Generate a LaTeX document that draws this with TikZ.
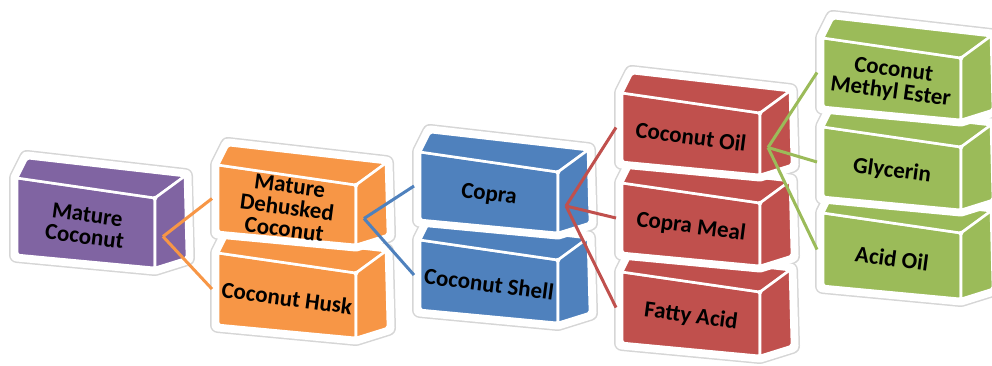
\documentclass[tikz,border=0pt]{standalone}
\usepackage{fontspec}
\setmainfont{Carlito}
\usetikzlibrary{positioning}

\definecolor{cratepurple}{HTML}{8064A2}
\definecolor{crateorange}{HTML}{F79646}
\definecolor{crateblue}{HTML}{4F81BD}
\definecolor{cratered}{HTML}{C0504D}
\definecolor{crategreen}{HTML}{9BBB59}

\pgfdeclarelayer{rim}
\pgfsetlayers{rim,main}

\tikzset{
  rim/.style={draw=black!16,fill=black!16,line width=16pt,line join=round},
  halo/.style={draw=white,fill=white,line width=13pt,line join=round},
  face/.style={fill=#1,draw=white,line width=2.6pt,line join=round,rounded corners=2pt},
  crate text/.style={font=\fontsize{23}{22}\selectfont\bfseries,align=center,rotate=-7.5,inner sep=0pt},
  link/.style={draw=#1,line width=3pt},
  pics/crate/.style n args={3}{code={
    \begin{pgfonlayer}{rim}
      \draw[rim] (0,0) -- (10,-20) -- (168,-2) -- (170,#2+3) -- (138,#2+13) -- (0,#2) -- cycle;
    \end{pgfonlayer}
    \draw[halo] (0,0) -- (10,-20) -- (168,-2) -- (170,#2+3) -- (138,#2+13) -- (0,#2) -- cycle;
    \draw[face=#1] (0,0) -- (138,20) -- (138,#2+13) -- (0,#2) -- cycle;
    \draw[face=#1] (0,0) -- (10,-20) -- (168,-2) -- (138,20) -- cycle;
    \draw[face=#1] (138,20) -- (168,-2) -- (170,#2+3) -- (138,#2+13) -- cycle;
    \node[crate text] (-label) at (69,#2/2+9) {#3};
    \coordinate (-in) at (-6,#2/2);
    \coordinate (-out) at (146,#2/2+20);
  }}
}

\begin{document}
\begin{tikzpicture}[x=1pt,y=-1pt]
  \useasboundingbox (0,0) rectangle (992,365);

  % boxes, lower ones of a stack first
  \pic (mc) at (17,178) {crate={cratepurple}{77}{Mature\\Coconut}};

  \pic (mh) at (218,253) {crate={crateorange}{72}{Coconut Husk}};
  \pic (md) at (218,165) {crate={crateorange}{67}{Mature\\Dehusked\\Coconut}};

  \pic (shell) at (420,240) {crate={crateblue}{70}{Coconut Shell}};
  \pic (copra) at (420,152) {crate={crateblue}{68}{Copra}};

  \pic (fatty) at (622,272) {crate={cratered}{71}{Fatty Acid}};
  \pic (meal) at (622,183) {crate={cratered}{70}{Copra Meal}};
  \pic (oil) at (622,93) {crate={cratered}{69}{Coconut Oil}};

  \pic (acid) at (823,213) {crate={crategreen}{73}{Acid Oil}};
  \pic (gly) at (823,127) {crate={crategreen}{70}{Glycerin}};
  \pic (cme) at (823,38) {crate={crategreen}{69}{Coconut\\Methyl Ester}};

  % links
  \draw[link=crateorange] (mc-out) -- (md-in);
  \draw[link=crateorange] (mc-out) -- (mh-in);
  \draw[link=crateblue] (md-out) -- (copra-in);
  \draw[link=crateblue] (md-out) -- (shell-in);
  \draw[link=cratered] (copra-out) -- (oil-in);
  \draw[link=cratered] (copra-out) -- (meal-in);
  \draw[link=cratered] (copra-out) -- (fatty-in);
  \draw[link=crategreen] (oil-out) -- (cme-in);
  \draw[link=crategreen] (oil-out) -- (gly-in);
  \draw[link=crategreen] (oil-out) -- (acid-in);
\end{tikzpicture}
\end{document}
